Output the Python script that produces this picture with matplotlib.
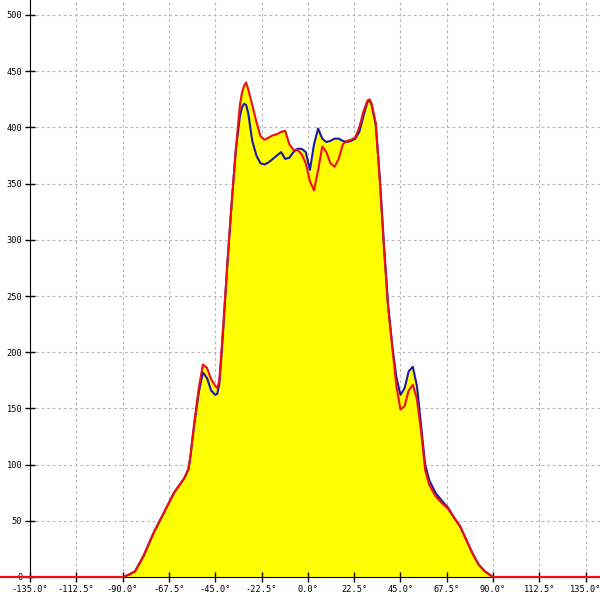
import numpy as np
import matplotlib
matplotlib.use('Agg')
import matplotlib.pyplot as plt

# ---- data (angle in degrees) ----
angle = [-150, -90, -87, -84, -80, -75, -70, -65, -60, -58, -57, -56, -55, -53, -51, -49, -47,
         -45, -44, -43, -42, -41, -39, -37, -35, -33, -32, -31, -30, -29, -27, -25, -23, -21, -19,
         -17, -15, -13, -11, -9, -7, -5, -3, -1, 1, 3, 5, 7, 9, 11, 13, 15, 17, 19,
         21, 23, 25, 27, 29, 30, 31, 33, 35, 37, 39, 41, 43, 45, 47, 49, 51, 53, 55,
         57, 59, 62, 65, 68, 71, 74, 77, 80, 83, 86, 90, 150]
red = [0, 0, 2, 5, 18, 39, 57, 75, 88, 96, 108, 124, 140, 168, 189, 186, 176,
       170, 168, 175, 200, 226, 282, 333, 380, 420, 431, 437, 440, 434, 420, 405, 392, 389, 391,
       393, 394, 396, 397, 385, 380, 380, 376, 368, 352, 344, 362, 383, 378, 368, 365, 372, 385, 388,
       389, 391, 400, 414, 424, 425, 421, 404, 352, 292, 240, 205, 170, 149, 152, 166, 171, 158, 130,
       95, 82, 72, 66, 61, 53, 45, 33, 21, 11, 5, 0, 0]
blue = [0, 0, 2, 5, 18, 39, 57, 75, 88, 96, 108, 124, 138, 164, 182, 177, 166,
        162, 163, 172, 196, 224, 281, 333, 380, 410, 418, 421, 420, 413, 388, 375, 368, 367, 369,
        372, 375, 378, 372, 373, 378, 381, 381, 378, 362, 385, 399, 390, 387, 388, 390, 390, 388, 387,
        388, 390, 396, 410, 423, 424, 420, 402, 354, 295, 242, 206, 178, 162, 168, 183, 187, 170, 135,
        100, 86, 75, 68, 62, 53, 45, 33, 21, 11, 5, 0, 0]
xticks = [-135.0, -112.5, -90.0, -67.5, -45.0, -22.5, 0.0, 22.5, 45.0, 67.5, 90.0, 112.5, 135.0]
yticks = list(range(0, 501, 50))

angle = np.array(angle, float)
red = np.array(red, float)
blue = np.array(blue, float)

fig = plt.figure(figsize=(6, 6), dpi=100)
ax = fig.add_axes([0, 23/600, 1, 577/600])
px_x = 555.7 / 270
px_y = 562 / 500
ax.set_xlim(-135 - 30/px_x, -135 + 570/px_x)
ax.set_ylim(0, 577/px_y)

ax.fill_between(angle, 0, np.maximum(red, blue), color='#ffff00', lw=0, zorder=1)
ax.plot(angle, blue, color='#1a1aa8', lw=1.5, zorder=3, clip_on=False,
        solid_joinstyle='round')
ax.plot(angle, red, color='#ee1010', lw=1.5, zorder=4, clip_on=False,
        solid_joinstyle='round')

# grid: vertical over full height, horizontal starting at the y axis
grid_kw = dict(color='#b8b8b8', lw=0.8, ls=(0, (2.5, 2.5)), zorder=0.5)
for xv in xticks:
    ax.axvline(xv, **grid_kw)
ax.hlines(yticks[1:], -135, ax.get_xlim()[1], **grid_kw)

for s in ['top', 'right']:
    ax.spines[s].set_visible(False)
ax.spines['left'].set_position(('data', -135))
ax.spines['bottom'].set_position(('data', 0))
ax.spines['bottom'].set_bounds(-135, ax.get_xlim()[1])
ax.spines['left'].set_zorder(2)

ax.set_xticks(xticks)
ax.set_xticklabels([f'{v:.1f}°' for v in xticks])
ax.set_yticks(yticks)
ax.set_yticklabels([str(v) for v in yticks])
ax.tick_params(direction='inout', length=7, width=1, labelsize=6.2, pad=2)
for lab in ax.get_xticklabels() + ax.get_yticklabels():
    lab.set_family('DejaVu Sans Mono')

fig.savefig('out.png', dpi=100)
